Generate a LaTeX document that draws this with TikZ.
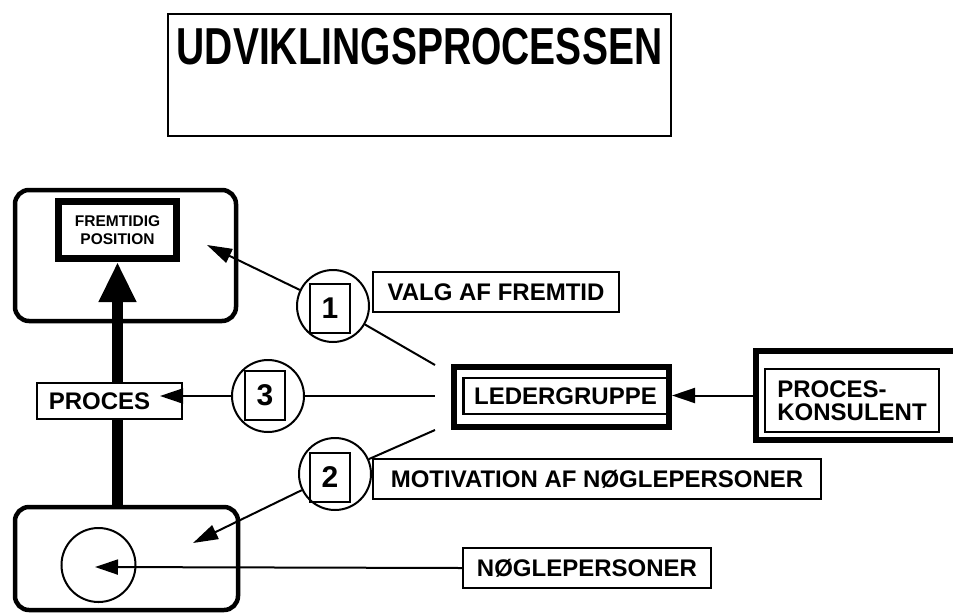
\documentclass[tikz,border=0pt]{standalone}
\usepackage{fontspec}
\usepackage{graphicx}
\setmainfont{Liberation Sans}
\usetikzlibrary{arrows.meta}
\begin{document}
\begin{tikzpicture}[x=1pt,y=-1pt,
  thinline/.style={line width=2pt},
  tip/.style={-{Triangle[length=23pt,width=15pt]}},
  lbl/.style={draw, line width=2pt, fill=white, inner sep=0pt, align=center,
              font=\bfseries\fontsize{24}{23}\selectfont},
  roundbox/.style={draw, line width=4.5pt, rounded corners=14pt, inner sep=0pt},
  ring/.style={draw, circle, line width=2pt, inner sep=0pt, minimum size=72pt},
  numbox/.style={draw, line width=2pt, inner sep=0pt, minimum width=40pt, minimum height=49pt,
              font=\bfseries\fontsize{30}{30}\selectfont},
  heavybox/.style={draw, line width=6pt, inner sep=0pt},
  midbox/.style={draw, line width=2.8pt, inner sep=0pt}]
\clip (0,0) rectangle (953,614);
\fill[white] (0,0) rectangle (953,614);

% title
\node[draw, line width=2pt, minimum width=503pt, minimum height=122pt, inner sep=0pt] (title) at (419.5,75) {};
\node[inner sep=0pt, font=\bfseries\fontsize{52}{52}\selectfont] (titletext) at (419.5,47) {\scalebox{0.75}[1]{UDVIKLINGSPROCESSEN}};

% top-left rounded box with future position
\node[roundbox, minimum width=221pt, minimum height=131pt] (futbox) at (125.5,255.5) {};
\node[draw, line width=7pt, inner sep=0pt, minimum width=118pt, minimum height=57pt, align=center,
      font=\bfseries\fontsize{15.5}{18}\selectfont] (fut) at (117.5,230) {FREMTIDIG\\POSITION};

% bottom rounded box with key persons
\node[roundbox, minimum width=223pt, minimum height=103pt] (botbox) at (126.5,558.5) {};
\node[ring, minimum size=74pt] (kp) at (98.5,565) {};

% thick process arrow
\draw[line width=11pt, -{Triangle[length=40pt,width=35pt]}] (botbox.north -| fut.south) -- (fut.south);

% PROCES box
\node[draw, line width=2pt, fill=white, inner sep=0pt, minimum width=145pt, minimum height=36pt] (proces) at (109.5,401) {};
\node[inner sep=0pt, font=\bfseries\fontsize{24}{23}\selectfont] (procestext) at (99.5,401) {PROCES};

% numbered circles
\node[ring] (c1) at (333,306) {};
\node[numbox] (s1) at (330,308.5) {1};
\node[ring] (c3) at (268,396) {};
\node[numbox, minimum height=49pt] (s3) at (265,395.5) {3};
\node[ring] (c2) at (335,474) {};
\node[numbox] (s2) at (330,477) {2};

% labels
\node[lbl, minimum width=246pt, minimum height=40pt] (valg) at (496,292) {VALG AF FREMTID};
\node[lbl, minimum width=448pt, minimum height=40pt] (motiv) at (597,479) {MOTIVATION AF NØGLEPERSONER};
\node[lbl, minimum width=248pt, minimum height=40pt] (nogle) at (587,568) {NØGLEPERSONER};

% LEDERGRUPPE
\node[heavybox, minimum width=215pt, minimum height=60pt] (leder) at (561.5,396.5) {};
\node[midbox, minimum width=204pt, minimum height=36pt, font=\bfseries\fontsize{24}{23}\selectfont] (ledin) at (565.5,396) {LEDERGRUPPE};

% PROCES-KONSULENT
\node[heavybox, minimum width=220pt, minimum height=89pt] (pk) at (866,395.5) {};
\node[midbox, minimum width=174pt, minimum height=63pt, align=left,
      font=\bfseries\fontsize{24}{23}\selectfont] (pkin) at (852,400.5) {PROCES-\\KONSULENT};

% free ends
\coordinate (l1) at (435,365);
\coordinate (l3) at (435,396);
\coordinate (l2) at (435,430);
\coordinate (a1) at (207,245);
\coordinate (a2) at (193,543);
\coordinate (a3) at (95,567);
\coordinate (a4) at (160,396);

% connectors
\draw[thinline] (c1) -- (l1);
\draw[thinline] (c3) -- (l3);
\draw[thinline] (c2) -- (l2);
\draw[thinline, -{Triangle[length=25pt,width=15pt]}] (c1) -- (a1);
\draw[thinline, -{Triangle[length=25pt,width=15pt]}] (c2) -- (a2);
\draw[thinline, tip] (c3) -- (a4);
\draw[thinline, tip] (pk.west) -- (pk.west -| leder.east);
\draw[thinline, tip] (nogle.west) -- (a3);
\end{tikzpicture}
\end{document}
